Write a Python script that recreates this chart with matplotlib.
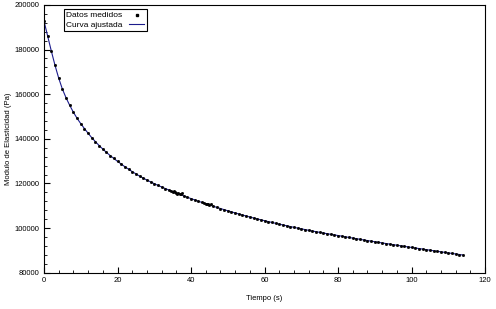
import matplotlib
matplotlib.use("Agg")
import matplotlib.pyplot as plt
from matplotlib.ticker import AutoMinorLocator, MultipleLocator

plt.rcParams['font.family'] = ['Liberation Sans', 'DejaVu Sans']

# tiempo (s) y modulo de elasticidad (Pa)
tiempo = list(range(0, 115))
modulo = [
    192800, 186000, 179300, 172900, 167200, 162300, 158400, 155000, 151900, 149200,
    146800, 144600, 142500, 140500, 138700, 137000, 135400, 133900, 132500, 131200,
    129900, 128700, 127500, 126400, 125300, 124300, 123300, 122400, 121500, 120700,
    119900, 119150, 118420, 117710, 117020, 116350, 115700, 115060, 114430, 113810,
    113200, 112610, 112030, 111460, 110900, 110350, 109810, 109280, 108760, 108250,
    107750, 107260, 106780, 106310, 105850, 105400, 104960, 104530, 104110, 103700,
    103300, 102905, 102517, 102135, 101760, 101392, 101030, 100675, 100326, 99984,
    99649, 99320, 98998, 98682, 98373, 98071, 97775, 97486, 97203, 96927,
    96657, 96360, 96072, 95787, 95504, 95224, 94946, 94671, 94398, 94128,
    93860, 93595, 93332, 93072, 92814, 92559, 92306, 92056, 91808, 91563,
    91320, 91070, 90821, 90573, 90326, 90080, 89835, 89591, 89348, 89106,
    88865, 88625, 88386, 88148, 87910,
]

# puntos extra con algo de ruido (zona 34-45 s)
t_extra = [34.5, 35.3, 35.6, 36.2, 36.5, 37.3, 37.6, 43.5, 44.3, 44.6, 45.3]
m_extra = [116800, 116500, 116000, 115300, 115900, 115100, 115600, 111300, 110800, 111000, 110600]

t_med = tiempo + t_extra
m_med = modulo + m_extra

fig = plt.figure(figsize=(4.96, 3.09), dpi=100)
ax = fig.add_axes([0.0887, 0.1175, 0.8893, 0.8665])

ax.plot(tiempo, modulo, color='#1c1c8c', lw=0.8, label='Curva ajustada', zorder=2)
ax.plot(t_med, m_med, ls='none', marker='s', ms=1.0, color='black',
        label='Datos medidos', zorder=3)

ax.set_xlim(0, 120)
ax.set_ylim(80000, 200000)
ax.xaxis.set_major_locator(MultipleLocator(20))
ax.yaxis.set_major_locator(MultipleLocator(20000))
ax.xaxis.set_minor_locator(AutoMinorLocator(5))
ax.yaxis.set_minor_locator(AutoMinorLocator(5))
ax.ticklabel_format(style='plain', useOffset=False)
ax.tick_params(which='major', direction='in', length=4, width=0.8, labelsize=5.5, pad=3)
ax.tick_params(which='minor', direction='in', length=2, width=0.6)
for s in ax.spines.values():
    s.set_linewidth(0.8)

ax.set_xlabel('Tiempo (s)', fontsize=5.5, labelpad=8)
ax.set_ylabel('Modulo de Elasticidad (Pa)', fontsize=5.5, labelpad=2)

handles, labels = ax.get_legend_handles_labels()
leg = ax.legend(handles[::-1], labels[::-1], loc='upper left',
                bbox_to_anchor=(0.035, 1.0), fontsize=6, markerfirst=False,
                fancybox=False, framealpha=1, edgecolor='black',
                handlelength=1.8, borderpad=0.3, labelspacing=0.2,
                handletextpad=0.8, markerscale=1.5)
leg.get_frame().set_linewidth(0.8)

fig.savefig('out.png', dpi=100)
